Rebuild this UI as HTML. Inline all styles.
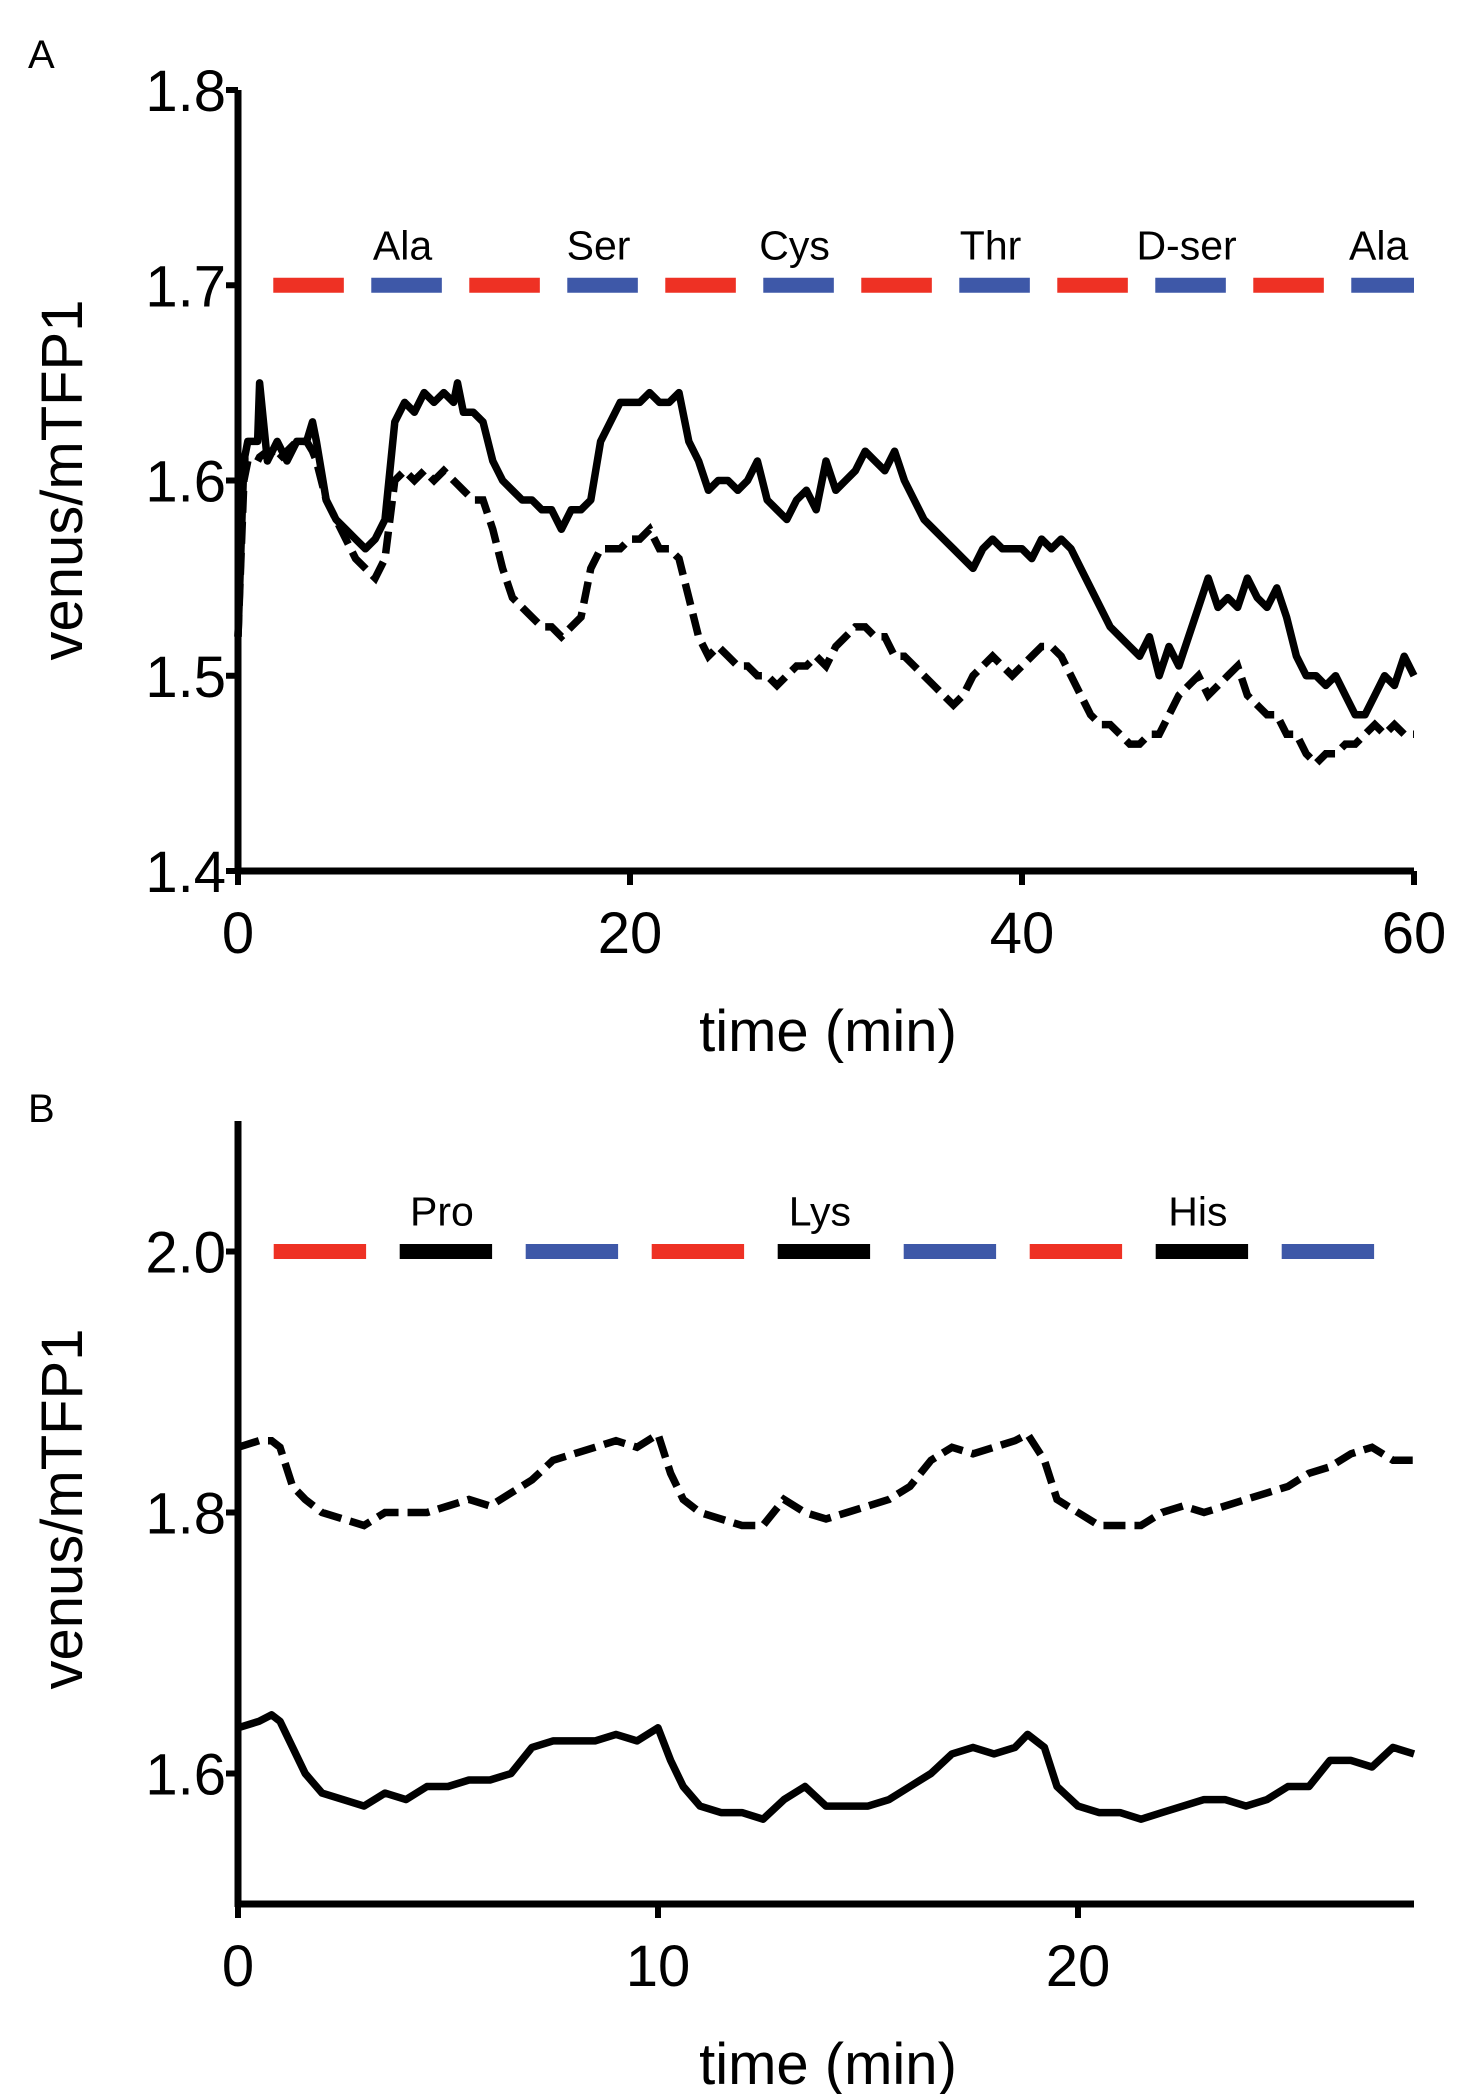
<!DOCTYPE html>
<html><head><meta charset="utf-8"><style>
html,body{margin:0;padding:0;background:#fff}
svg{display:block;font-family:"Liberation Sans",Arial,sans-serif}
</style></head><body>
<svg id="fig" width="1482" height="2094" viewBox="0 0 1482 2094" xmlns="http://www.w3.org/2000/svg">
<text x="28" y="68" font-size="40">A</text>
<text x="28" y="1122" font-size="40">B</text>
<g id="pa"></g>
<g id="pb"></g>
</svg>
<script>
// Panel A data
const aTimes = [0,0.3,0.5,1,1.1,1.5,2,2.5,3,3.5,3.8,4,4.5,5,5.5,6,6.5,7,7.5,8,8.5,9,9.5,10,10.5,11,11.2,11.5,12,12.5,13,13.5,14,14.5,15,15.5,16,16.5,17,17.5,18,18.5,19,19.5,20,20.5,21,21.5,22,22.5,23,23.5,24,24.5,25,25.5,26,26.5,27,27.5,28,28.5,29,29.5,30,30.5,31,31.5,32,32.5,33,33.5,34,34.5,35,35.5,36,36.5,37,37.5,38,38.5,39,39.5,40,40.5,41,41.5,42,42.5,43,43.5,44,44.5,45,45.5,46,46.5,47,47.5,48,48.5,49,49.5,50,50.5,51,51.5,52,52.5,53,53.5,54,54.5,55,55.5,56,56.5,57,57.5,58,58.5,59,59.5,60];
const aSolid = [1.52,1.61,1.62,1.62,1.65,1.61,1.62,1.61,1.62,1.62,1.63,1.62,1.59,1.58,1.575,1.57,1.565,1.57,1.58,1.63,1.64,1.635,1.645,1.64,1.645,1.64,1.65,1.635,1.635,1.63,1.61,1.60,1.595,1.59,1.59,1.585,1.585,1.575,1.585,1.585,1.59,1.62,1.63,1.64,1.64,1.64,1.645,1.64,1.64,1.645,1.62,1.61,1.595,1.60,1.60,1.595,1.60,1.61,1.59,1.585,1.58,1.59,1.595,1.585,1.61,1.595,1.60,1.605,1.615,1.61,1.605,1.615,1.60,1.59,1.58,1.575,1.57,1.565,1.56,1.555,1.565,1.57,1.565,1.565,1.565,1.56,1.57,1.565,1.57,1.565,1.555,1.545,1.535,1.525,1.52,1.515,1.51,1.52,1.50,1.515,1.505,1.52,1.535,1.55,1.535,1.54,1.535,1.55,1.54,1.535,1.545,1.53,1.51,1.50,1.50,1.495,1.50,1.49,1.48,1.48,1.49,1.50,1.495,1.51,1.50];
const aDashed = [1.52,1.60,1.61,1.61,1.612,1.615,1.61,1.615,1.62,1.62,1.615,1.61,1.59,1.58,1.57,1.56,1.555,1.55,1.56,1.60,1.605,1.60,1.605,1.60,1.605,1.60,1.598,1.595,1.59,1.59,1.575,1.555,1.54,1.535,1.53,1.525,1.525,1.52,1.525,1.53,1.555,1.565,1.565,1.565,1.57,1.57,1.575,1.565,1.565,1.56,1.54,1.52,1.51,1.515,1.51,1.505,1.505,1.50,1.50,1.495,1.50,1.505,1.505,1.51,1.505,1.515,1.52,1.525,1.525,1.52,1.52,1.51,1.51,1.505,1.50,1.495,1.49,1.485,1.49,1.50,1.505,1.51,1.505,1.50,1.505,1.51,1.515,1.515,1.51,1.50,1.49,1.48,1.475,1.475,1.47,1.465,1.465,1.47,1.47,1.48,1.49,1.495,1.50,1.49,1.495,1.50,1.505,1.49,1.485,1.48,1.48,1.47,1.47,1.46,1.455,1.46,1.46,1.465,1.465,1.47,1.475,1.47,1.475,1.47,1.47];
const aXTicks = [0,20,40,60];
const aYTicks = [1.4,1.5,1.6,1.7,1.8];
const aBarStarts = [1.8,6.8,11.8,16.8,21.8,26.8,31.8,36.8,41.8,46.8,51.8,56.8];
const aBarColors = ["red","blue","red","blue","red","blue","red","blue","red","blue","red","blue"];
const aBarLabels = ["","Ala","","Ser","","Cys","","Thr","","D-ser","","Ala"];
const aBarValue = 1.7;
// Panel B data
const bTimes = [0,0.5,0.8,1,1.3,1.6,2,2.5,3,3.5,4,4.5,5,5.5,6,6.5,7,7.5,8,8.5,9,9.5,10,10.3,10.6,11,11.5,12,12.5,13,13.5,14,14.5,15,15.5,16,16.5,17,17.5,18,18.5,18.8,19.2,19.5,20,20.5,21,21.5,22,22.5,23,23.5,24,24.5,25,25.5,26,26.5,27,27.5,28];
const bSolid = [1.635,1.64,1.645,1.64,1.62,1.60,1.585,1.58,1.575,1.585,1.58,1.59,1.59,1.595,1.595,1.60,1.62,1.625,1.625,1.625,1.63,1.625,1.635,1.61,1.59,1.575,1.57,1.57,1.565,1.58,1.59,1.575,1.575,1.575,1.58,1.59,1.60,1.615,1.62,1.615,1.62,1.63,1.62,1.59,1.575,1.57,1.57,1.565,1.57,1.575,1.58,1.58,1.575,1.58,1.59,1.59,1.61,1.61,1.605,1.62,1.615];
const bDashed = [1.85,1.855,1.855,1.85,1.82,1.81,1.80,1.795,1.79,1.80,1.80,1.80,1.805,1.81,1.805,1.815,1.825,1.84,1.845,1.85,1.855,1.85,1.86,1.83,1.81,1.80,1.795,1.79,1.79,1.81,1.80,1.795,1.80,1.805,1.81,1.82,1.84,1.85,1.845,1.85,1.855,1.86,1.84,1.81,1.80,1.79,1.79,1.79,1.80,1.805,1.80,1.805,1.81,1.815,1.82,1.83,1.835,1.845,1.85,1.84,1.84];
const bXTicks = [0,10,20];
const bYTicks = [1.6,1.8,2.0];
const bBarStarts = [0.85,3.85,6.85,9.85,12.85,15.85,18.85,21.85,24.85];
const bBarColors = ["red","black","blue","red","black","blue","red","black","blue"];
const bBarLabels = ["","Pro","","","Lys","","","His",""];
const bBarValue = 2.0;

const NS="http://www.w3.org/2000/svg";
const COL={red:"#ee3124",blue:"#3e58a8",black:"#000"};
function mk(parent,tag,attrs){const e=document.createElementNS(NS,tag);for(const k in attrs)e.setAttribute(k,attrs[k]);parent.appendChild(e);return e;}

function panel(g,o){
  const sx=t=>o.x0+(t-o.t0)/(o.t1-o.t0)*(o.x1-o.x0);
  const sy=v=>o.y1-(v-o.v0)/(o.v1-o.v0)*(o.y1-o.y0);
  o.barStarts.forEach((s,i)=>{
    const r=mk(g,"line",{x1:sx(s),x2:sx(Math.min(s+o.barLen,o.t1)),y1:sy(o.barValue),y2:sy(o.barValue),stroke:COL[o.barColors[i]],"stroke-width":15});
    
    
    if(o.barLabels[i]){
      const t=mk(g,"text",{x:(sx(s)+sx(Math.min(s+o.barLen,o.t1)))/2-4,y:sy(o.barValue)-26,"text-anchor":"middle","font-size":41});
      t.textContent=o.barLabels[i];
      
      
    }
  });
  const ptsS=o.times.map((t,i)=>sx(t).toFixed(1)+","+sy(o.solid[i]).toFixed(1)).join(" ");
  const ps=mk(g,"polyline",{points:ptsS,fill:"none",stroke:"#000","stroke-width":7.5,"stroke-linejoin":"round"});
  
  
  const ptsD=o.times.map((t,i)=>sx(t).toFixed(1)+","+sy(o.dashed[i]).toFixed(1)).join(" ");
  const pd=mk(g,"polyline",{points:ptsD,fill:"none",stroke:"#000","stroke-width":7.5,"stroke-dasharray":"22 9"});
  
  
  const ya=mk(g,"line",{x1:o.x0,x2:o.x0,y1:o.y0,y2:o.y1+3,stroke:"#000","stroke-width":7});
  
  
  const xa=mk(g,"line",{x1:o.x0-3,x2:o.x1,y1:o.y1,y2:o.y1,stroke:"#000","stroke-width":7});
  
  
  o.yTicks.forEach(v=>{
    const tk=mk(g,"line",{x1:o.x0-12,x2:o.x0,y1:sy(v),y2:sy(v),stroke:"#000","stroke-width":6});
    
    
    const t=mk(g,"text",{x:o.x0-12,y:sy(v)+21,"text-anchor":"end","font-size":58});
    t.textContent=v.toFixed(1);
    
    
  });
  o.xTicks.forEach(v=>{
    const tk=mk(g,"line",{x1:sx(v),x2:sx(v),y1:o.y1,y2:o.y1+14,stroke:"#000","stroke-width":6});
    
    
    const t=mk(g,"text",{x:sx(v),y:o.y1+82,"text-anchor":"middle","font-size":58});
    t.textContent=String(v);
    
    
  });
  const xt=mk(g,"text",{x:828,y:o.y1+180,"text-anchor":"middle","font-size":58});
  xt.textContent="time (min)";
  
  
  const yt=mk(g,"text",{x:0,y:0,"text-anchor":"middle","font-size":58,transform:"translate(82,"+o.titleY+") rotate(-90)"});
  yt.textContent="venus/mTFP1";
  
  
}
panel(document.getElementById("pa"),{id:"a",x0:238,x1:1414,t0:0,t1:60,y0:90,y1:871,v0:1.4,v1:1.8,
  times:aTimes,solid:aSolid,dashed:aDashed,xTicks:aXTicks,yTicks:aYTicks,
  barStarts:aBarStarts,barColors:aBarColors,barLabels:aBarLabels,barValue:aBarValue,barLen:3.6,titleY:480});
panel(document.getElementById("pb"),{id:"b",x0:238,x1:1414,t0:0,t1:28,y0:1121,y1:1904,v0:1.5,v1:2.1,
  times:bTimes,solid:bSolid,dashed:bDashed,xTicks:bXTicks,yTicks:bYTicks,
  barStarts:bBarStarts,barColors:bBarColors,barLabels:bBarLabels,barValue:bBarValue,barLen:2.2,titleY:1509});
</script>
</body></html>
